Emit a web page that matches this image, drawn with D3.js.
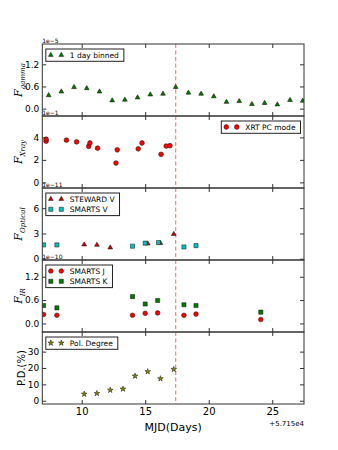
<!DOCTYPE html>
<html>
<head>
<meta charset="utf-8">
<title>Multiwavelength light curve</title>
<style>
  body { margin: 0; background: white; }
  text { font-family: "DejaVu Sans", sans-serif; }
  .frame { fill: none; stroke: #333; stroke-width: 1px; }
  .tick line { stroke: #333; }
  .tick text { font-size: 9px; fill: #000; }
  .legend-box { fill: white; stroke: #222; stroke-width: 1px; }
  .legend-text { font-size: 7.5px; }
  .offset { font-size: 6px; }
  .flare { stroke: #ff5c5c; stroke-opacity: 0.8; stroke-width: 1.2px; stroke-dasharray: 4,2.5; }
</style>
</head>
<body>
<div id="chart"></div>
<script src="https://d3js.org/d3.v7.min.js"></script>
<script>
// days are MJD - 57150
const gammaDays = [7.4, 8.4, 9.4, 10.4, 11.4, 12.4, 13.4, 14.4, 15.4, 16.4, 17.4, 18.4, 19.4, 20.4, 21.4, 22.4, 23.4, 24.4, 25.4, 26.4, 27.4];
const gammaFlux = [0.36, 0.46, 0.58, 0.55, 0.46, 0.22, 0.24, 0.30, 0.38, 0.40, 0.58, 0.43, 0.40, 0.33, 0.18, 0.20, 0.12, 0.15, 0.11, 0.23, 0.21];
const gammaErr  = [0.04, 0.04, 0.05, 0.04, 0.04, 0.04, 0.04, 0.04, 0.04, 0.04, 0.05, 0.04, 0.04, 0.04, 0.04, 0.04, 0.04, 0.04, 0.04, 0.04, 0.04];

const xrayDays = [7.2, 7.2, 8.8, 9.6, 10.55, 10.65, 11.25, 12.7, 12.8, 14.45, 14.75, 16.25, 16.65, 16.95];
const xrayFlux = [3.66, 3.84, 3.75, 3.60, 3.20, 3.50, 3.04, 1.72, 2.89, 2.98, 3.50, 2.49, 3.23, 3.26];
const xrayErr  = [0.12, 0.12, 0.12, 0.12, 0.12, 0.12, 0.1, 0.1, 0.1, 0.1, 0.1, 0.1, 0.1, 0.1];

const stewardDays = [10.2, 11.2, 12.25, 15.2, 16.2, 17.25];
const stewardV    = [1.68, 1.64, 1.32, 1.80, 1.85, 2.93];
const smartsVDays = [7.0, 8.05, 14.0, 15.0, 16.05, 18.05, 19.0];
const smartsV     = [1.64, 1.64, 1.49, 1.85, 1.92, 1.40, 1.56];

const irDays  = [7.0, 8.05, 14.0, 15.0, 15.98, 18.05, 19.0, 24.1];
const smartsJ = [0.23, 0.21, 0.21, 0.26, 0.27, 0.21, 0.24, 0.10];
const smartsK = [0.46, 0.40, 0.69, 0.50, 0.59, 0.48, 0.46, 0.29];

const polDays   = [10.2, 11.2, 12.25, 13.25, 14.2, 15.2, 16.2, 17.25];
const polDegree = [4.1, 4.5, 6.5, 7.2, 15.1, 17.8, 13.5, 19.2];

const xTicks = [10, 15, 20, 25];
const flareDay = 17.4;

const width = 338, height = 450;
const left = 42.3, right = 304;
const panelTop = 44, panelH = 72;

const svg = d3.select("#chart").append("svg")
  .attr("width", width).attr("height", height);
svg.append("rect").attr("width", width).attr("height", height).attr("fill", "white");

const x = d3.scaleLinear().domain([6.9, 27.5]).range([left, right]);

const zip = (xs, ys, es) => xs.map((d, i) => ({x: d, y: ys[i], e: es ? es[i] : 0}));

const panels = [
  { label: ["F", "gamma"], domain: [-0.2, 1.75], ticks: [0, 0.6, 1.2], fmt: d3.format(".1f"), offset: "1e\u22125",
    legendPos: "left",
    series: [
      { name: "1 day binned", data: zip(gammaDays, gammaFlux, gammaErr), sym: d3.symbolTriangle, size: 10, fill: "#007a00", err: "#ff5555" }
    ] },
  { label: ["F", "Xray"], domain: [-0.5, 5.9], ticks: [0, 2, 4], fmt: d3.format("d"), offset: "1e\u22121",
    legendPos: "right",
    series: [
      { name: "XRT PC mode", data: zip(xrayDays, xrayFlux, xrayErr), sym: d3.symbolCircle, size: 18, fill: "#ff0000", err: "#33bb33" }
    ] },
  { label: ["F", "Optical"], domain: [-0.15, 8.4], ticks: [0, 3, 6], fmt: d3.format("d"), offset: "1e\u221211",
    legendPos: "left",
    series: [
      { name: "STEWARD V", data: zip(stewardDays, stewardV), sym: d3.symbolTriangle, size: 10, fill: "#cc0000" },
      { name: "SMARTS V", data: zip(smartsVDays, smartsV), sym: d3.symbolSquare, size: 17, fill: "#00bfbf" }
    ] },
  { label: ["F", "IR"], domain: [-0.22, 1.63], ticks: [0, 0.6, 1.2], fmt: d3.format(".1f"), offset: "1e\u221210",
    legendPos: "left",
    series: [
      { name: "SMARTS J", data: zip(irDays, smartsJ), sym: d3.symbolCircle, size: 17, fill: "#ff0000" },
      { name: "SMARTS K", data: zip(irDays, smartsK), sym: d3.symbolSquare, size: 17, fill: "#007a00" }
    ] },
  { label: ["P.D.(%)"], domain: [-2, 42], ticks: [0, 10, 20, 30], fmt: d3.format("d"), offset: null,
    legendPos: "left",
    series: [
      { name: "Pol. Degree", data: zip(polDays, polDegree), sym: d3.symbolStar, size: 10, fill: "#8a8a00" }
    ] }
];

panels.forEach((p, idx) => {
  const top = panelTop + idx * panelH;
  const bottom = top + panelH;
  const y = d3.scaleLinear().domain(p.domain).range([bottom, top]);
  const g = svg.append("g");

  // clip so points on the edge get cut like matplotlib
  const clipId = "clip" + idx;
  svg.append("clipPath").attr("id", clipId)
    .append("rect").attr("x", left).attr("y", top).attr("width", right - left).attr("height", panelH);

  const plot = g.append("g").attr("clip-path", "url(#" + clipId + ")");

  plot.append("line").attr("class", "flare")
    .attr("x1", x(flareDay)).attr("x2", x(flareDay))
    .attr("y1", top).attr("y2", bottom);

  p.series.forEach(s => {
    if (s.err) {
      plot.selectAll(null).data(s.data).enter().append("line")
        .attr("x1", d => x(d.x)).attr("x2", d => x(d.x))
        .attr("y1", d => y(d.y - d.e)).attr("y2", d => y(d.y + d.e))
        .attr("stroke", s.err).attr("stroke-width", 2.5).attr("opacity", 0.7);
    }
    plot.selectAll(null).data(s.data).enter().append("path")
      .attr("d", d3.symbol().type(s.sym).size(s.size))
      .attr("transform", d => `translate(${x(d.x)},${y(d.y)})`)
      .attr("fill", s.fill).attr("stroke", "#111").attr("stroke-width", 0.5);
  });

  // axes with inward ticks on all four sides
  g.append("g").attr("transform", `translate(${left},0)`)
    .call(d3.axisLeft(y).tickValues(p.ticks).tickFormat(p.fmt).tickSizeInner(-4).tickSizeOuter(0).tickPadding(3))
    .call(a => a.select(".domain").remove());
  g.append("g").attr("transform", `translate(${right},0)`)
    .call(d3.axisRight(y).tickValues(p.ticks).tickFormat("").tickSizeInner(-4).tickSizeOuter(0))
    .call(a => a.select(".domain").remove());
  g.append("g").attr("transform", `translate(0,${top})`)
    .call(d3.axisTop(x).tickValues(xTicks).tickFormat("").tickSizeInner(-4).tickSizeOuter(0))
    .call(a => a.select(".domain").remove());
  const xb = g.append("g").attr("transform", `translate(0,${bottom})`)
    .call(d3.axisBottom(x).tickValues(xTicks).tickSizeInner(-4).tickSizeOuter(0).tickPadding(4)
      .tickFormat(idx === panels.length - 1 ? d3.format("d") : ""))
    .call(a => a.select(".domain").remove());
  if (idx === panels.length - 1) xb.selectAll(".tick text").style("font-size", "10px");

  g.append("rect").attr("class", "frame")
    .attr("x", left).attr("y", top).attr("width", right - left).attr("height", panelH);

  // y label
  const lx = idx === panels.length - 1 ? 25 : 22;
  const lab = svg.append("text")
    .attr("transform", `translate(${lx},${top + panelH / 2}) rotate(-90)`)
    .attr("text-anchor", "middle");
  if (p.label.length === 2) {
    lab.append("tspan").text(p.label[0])
      .style("font-family", "'DejaVu Serif', serif").style("font-style", "italic").style("font-size", "11px");
    lab.append("tspan").text(p.label[1]).attr("dy", 2.5)
      .style("font-family", "'DejaVu Serif', serif").style("font-style", "italic").style("font-size", "7px");
  } else {
    lab.text(p.label[0]).style("font-size", "10px");
  }

  if (p.offset) {
    svg.append("text").attr("class", "offset")
      .attr("x", left).attr("y", top - 1.5).text(p.offset);
  }

  // legend
  const rowH = 10.3;
  const lg = svg.append("g");
  const texts = p.series.map(s => s.name);
  const tmp = lg.append("text").attr("class", "legend-text").text(texts.reduce((a, b) => a.length > b.length ? a : b));
  const tw = tmp.node().getComputedTextLength();
  tmp.remove();
  const boxW = 24 + tw + 5;
  const boxH = p.series.length * rowH + 2;
  const bx = p.legendPos === "left" ? left + 3.5 : right - 3.5 - boxW;
  const by = top + 5;
  lg.append("rect").attr("class", "legend-box")
    .attr("x", bx).attr("y", by).attr("width", boxW).attr("height", boxH);
  p.series.forEach((s, i) => {
    const cy = by + 6 + i * rowH;
    [bx + 5, bx + 15.5].forEach(mx => {
      lg.append("path").attr("d", d3.symbol().type(s.sym).size(s.size))
        .attr("transform", `translate(${mx},${cy})`)
        .attr("fill", s.fill).attr("stroke", "#111").attr("stroke-width", 0.5);
    });
    lg.append("text").attr("class", "legend-text")
      .attr("x", bx + 24).attr("y", cy + 2.7).text(s.name);
  });
});

const lastBottom = panelTop + panels.length * panelH;
svg.append("text").attr("x", (left + right) / 2).attr("y", lastBottom + 27)
  .attr("text-anchor", "middle").style("font-size", "11px").text("MJD(Days)");
svg.append("text").attr("x", right).attr("y", lastBottom + 22)
  .attr("text-anchor", "end").style("font-size", "7px").text("+5.715e4");
</script>
</body>
</html>
